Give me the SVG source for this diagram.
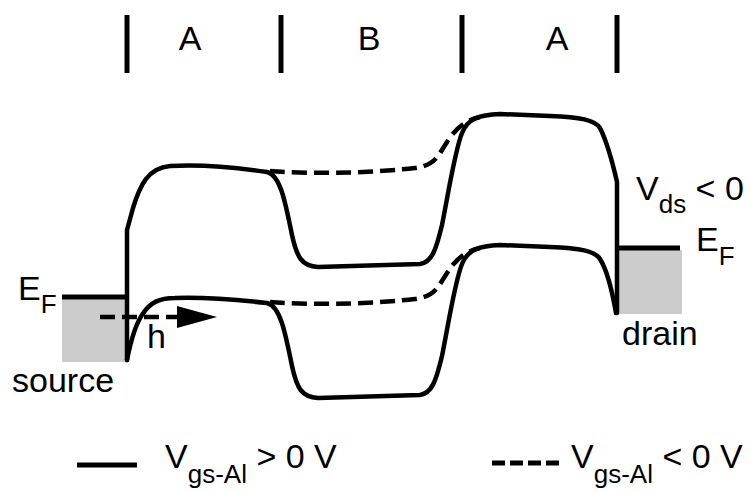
<svg xmlns="http://www.w3.org/2000/svg" width="750" height="492" viewBox="0 0 750 492">
<style>
text{font-family:"Liberation Sans",Arial,sans-serif;font-size:34px;fill:#000}
.sub{font-size:26px}
.band{fill:none;stroke:#000;stroke-width:4.5;stroke-linejoin:round;stroke-linecap:round}
.dash{fill:none;stroke:#000;stroke-width:4.5;stroke-dasharray:15 7}
.bar{stroke:#000;stroke-width:5}
.ef{stroke:#000;stroke-width:5}
.fill{fill:#cccccc}
</style>
<defs>
<marker id="ah" markerWidth="40" markerHeight="24" refX="0" refY="12" markerUnits="userSpaceOnUse" orient="auto">
<path d="M0,1 L40,12 L0,23 Z" fill="#000"/>
</marker>
</defs>
<g id="regions">
<line class="bar" x1="127" y1="15" x2="127" y2="73"/>
<line class="bar" x1="281" y1="15" x2="281" y2="73"/>
<line class="bar" x1="462" y1="15" x2="462" y2="73"/>
<line class="bar" x1="617" y1="15" x2="617" y2="73"/>
<text x="190" y="50" text-anchor="middle">A</text>
<text x="369" y="50" text-anchor="middle">B</text>
<text x="557" y="50" text-anchor="middle">A</text>
</g>
<g id="source">
<rect class="fill" x="62" y="298" width="65" height="64"/>
<line class="ef" x1="62" y1="297" x2="127" y2="297"/>
<text x="18" y="300">E<tspan class="sub" dy="13">F</tspan></text>
<text x="12" y="392">source</text>
</g>
<g id="drain">
<rect class="fill" x="618" y="250" width="64" height="64"/>
<line class="ef" x1="618" y1="248" x2="680" y2="248"/>
<text x="696" y="251">E<tspan class="sub" dy="14">F</tspan></text>
<text x="622" y="345">drain</text>
<text x="636" y="200">V<tspan class="sub" dy="13">ds</tspan><tspan dy="-13"> &lt; 0</tspan></text>
</g>
<g id="connectors">
<path class="band" d="M127,360 L127,230 L133,208 C140,185 148,168 170,166 C200,164 240,168 267,172 C280,175 285,200 292,235 C297,258 302,266 318,267 L420,264 C432,262 436,250 442,225 C448,195 455,150 462,133 C468,118 480,115 500,114 L550,116 C580,117 595,120 600,128 C607,142 612,160 617,182 L617,313"/>
<path class="band" d="M127,360 C130,345 135,325 142,315 C150,302 160,298 175,298 C205,297 240,300 267,303 C280,306 285,331 292,366 C297,389 302,397 318,398 L420,395 C432,393 436,381 442,356 C448,326 455,281 462,264 C468,249 480,246 500,245 L550,247 C580,248 595,251 600,259 C607,270 612,290 616,313"/>
<path class="dash" d="M270,171 C320,175 380,172 415,168 C430,166 436,160 442,150 C450,137 458,122 480,117"/>
<path class="dash" d="M270,302 C320,306 380,303 415,299 C430,297 436,291 442,281 C450,268 458,253 480,248"/>
<line class="dash" x1="100" y1="317" x2="177" y2="317" marker-end="url(#ah)"/>
<text x="147" y="348">h</text>
</g>
<g id="legend">
<line x1="77" y1="465" x2="137" y2="465" stroke="#000" stroke-width="5"/>
<text x="165" y="468">V<tspan class="sub" dy="15">gs-Al</tspan><tspan dy="-15"> &gt; 0 V</tspan></text>
<line x1="492" y1="463" x2="562" y2="463" stroke="#000" stroke-width="5" stroke-dasharray="13 5"/>
<text x="571" y="468">V<tspan class="sub" dy="15">gs-Al</tspan><tspan dy="-15"> &lt; 0 V</tspan></text>
</g>
</svg>
